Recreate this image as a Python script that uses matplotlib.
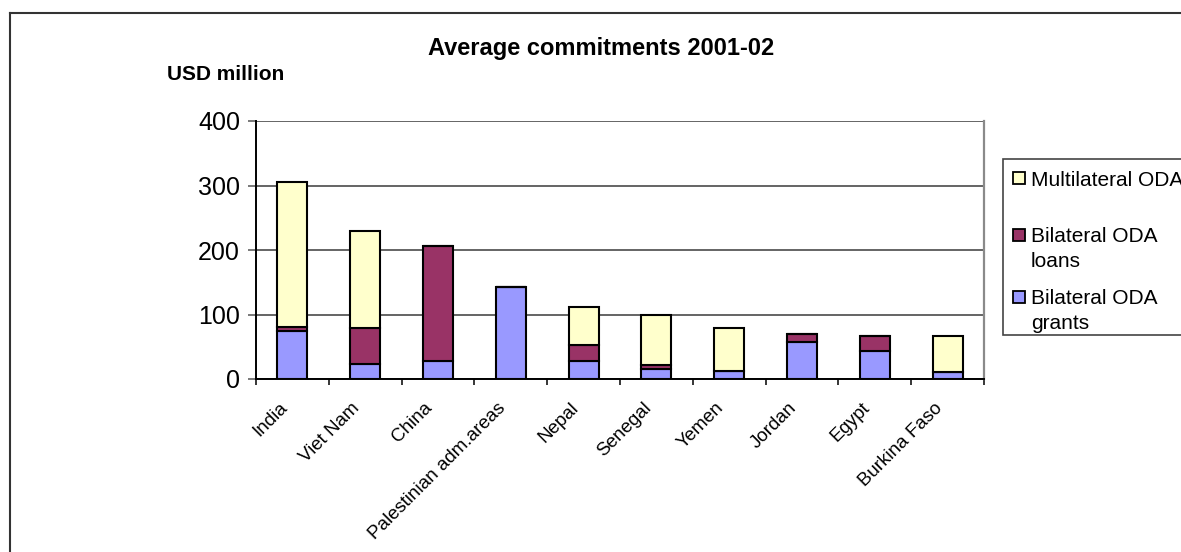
import matplotlib
matplotlib.use("Agg")
import matplotlib.pyplot as plt
from matplotlib.patches import Rectangle
from matplotlib.lines import Line2D
from matplotlib.transforms import ScaledTranslation
import numpy as np

plt.rcParams['font.family'] = ['Liberation Sans', 'DejaVu Sans']

# Average commitments 2001-02, USD million
countries = ["India", "Viet Nam", "China", "Palestinian adm.areas", "Nepal",
             "Senegal", "Yemen", "Jordan", "Egypt", "Burkina Faso"]
grants = [74, 23, 28, 143, 28, 15, 12, 58, 43, 11]
loans = [6, 56, 178, 0, 24, 6, 0, 12, 24, 0]
multilateral = [225, 150, 0, 0, 60, 78, 67, 0, 0, 55]

series_labels = ["Multilateral ODA", "Bilateral ODA\nloans", "Bilateral ODA\ngrants"]
series_colors = ["#FFFFCC", "#993366", "#9999FF"]
y_ticks = [0, 100, 200, 300, 400]

W, H = 1181, 552
fig = plt.figure(figsize=(W / 100, H / 100), dpi=100)


def fx(px):
    return px / W


def fy(py):
    return 1 - py / H


ax = fig.add_axes([fx(256), fy(379), fx(984) - fx(256), fy(121) - fy(379)])

x = np.arange(len(countries))
bw = 0.41
edge = dict(edgecolor="black", linewidth=1.5, zorder=3)
ax.bar(x, grants, bw, color=series_colors[2], **edge)
ax.bar(x, loans, bw, bottom=grants, color=series_colors[1], **edge)
bottom2 = [g + l for g, l in zip(grants, loans)]
ax.bar(x, multilateral, bw, bottom=bottom2, color=series_colors[0], **edge)

ax.set_xlim(-0.5, len(countries) - 0.5)
ax.set_ylim(0, 400)

# gridlines
ax.set_yticks(y_ticks)
ax.yaxis.grid(True, color="#3a3a3a", linewidth=1.1, zorder=0)
ax.set_axisbelow(True)
ax.tick_params(axis="y", direction="out", length=5.5, width=1.1,
               color="#555555", pad=6, labelsize=18)

# category labels and boundary ticks
ax.set_xticks(x)
ax.set_xticklabels(countries, rotation=45, ha="right", va="center",
                   rotation_mode="anchor", fontsize=13.5)
ax.tick_params(axis="x", which="major", length=0, pad=19)
shift = ScaledTranslation(-8 / 100, 0, fig.dpi_scale_trans)
for lbl in ax.get_xticklabels():
    lbl.set_transform(lbl.get_transform() + shift)
ax.set_xticks(np.arange(-0.5, len(countries)), minor=True)
ax.tick_params(axis="x", which="minor", direction="out", length=4.5,
               width=1.1, color="black")

ax.spines["top"].set_visible(False)
ax.spines["left"].set_linewidth(1.4)
ax.spines["bottom"].set_linewidth(1.4)
ax.spines["right"].set_color("#8a8a8a")
ax.spines["right"].set_linewidth(1.6)

# chart frame
fig.add_artist(Line2D([fx(10), fx(10)], [0, fy(13)], color="#333333",
                      linewidth=1.5, transform=fig.transFigure))
fig.add_artist(Line2D([fx(10), 1.0], [fy(13), fy(13)], color="#333333",
                      linewidth=1.5, transform=fig.transFigure))

# titles
fig.text(fx(601), fy(55), "Average commitments 2001-02", ha="center",
         va="baseline", fontsize=17, fontweight="bold")
fig.text(fx(167), fy(80), "USD million", ha="left", va="baseline",
         fontsize=15, fontweight="bold")

# legend
fig.add_artist(Rectangle((fx(1003), fy(335)), 0.3, fy(159) - fy(335),
                         transform=fig.transFigure, facecolor="white",
                         edgecolor="#444444", linewidth=1.2))
swatch_y = [178, 235, 297]
for label, color, sy in zip(series_labels, series_colors, swatch_y):
    fig.add_artist(Rectangle((fx(1013), fy(sy + 6)), fx(12), fy(0) - fy(12),
                             transform=fig.transFigure, facecolor=color,
                             edgecolor="black", linewidth=1.3))
    for i, line in enumerate(label.split("\n")):
        fig.text(fx(1031), fy(sy + 7.5 + i * 24.5), line, ha="left",
                 va="baseline", fontsize=15)

fig.savefig("out.png", dpi=100)
